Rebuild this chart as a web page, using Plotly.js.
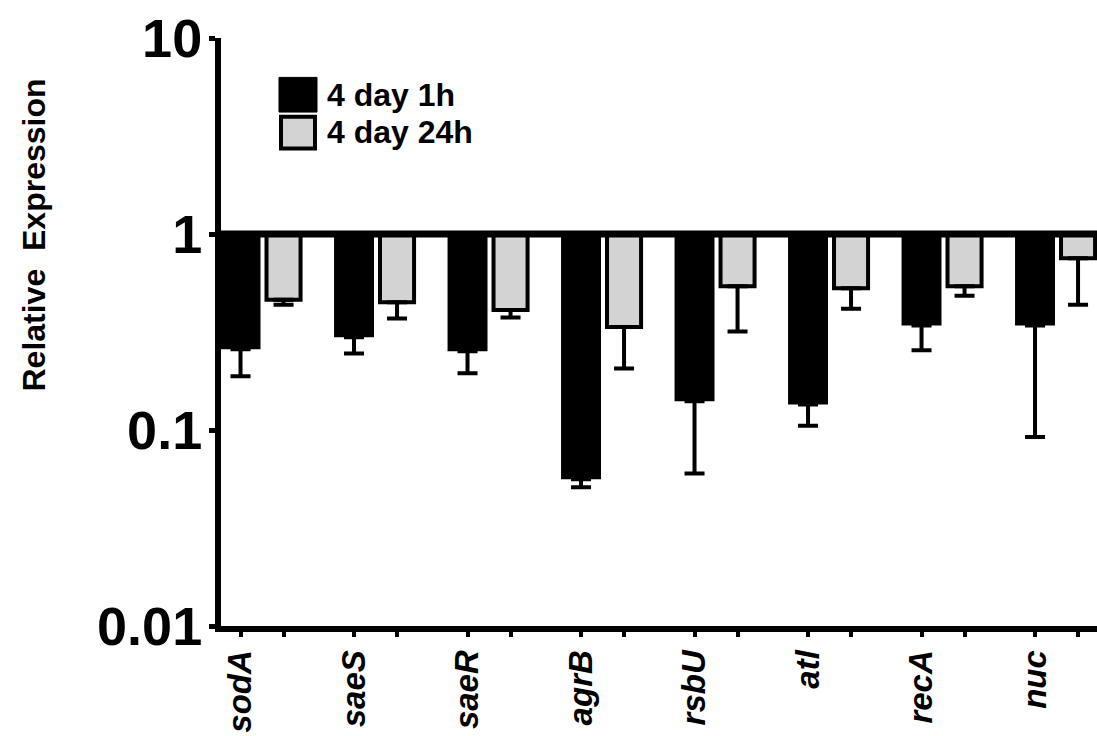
<!DOCTYPE html>
<html>
<head>
<meta charset="utf-8">
<script src="https://cdn.plot.ly/plotly-3.0.1.min.js"></script>
<style>html,body{margin:0;padding:0;background:#fff;}#chart{width:1097px;height:736px;}</style>
</head>
<body>
<div id="chart"></div>
<script>
// ---- data ----
const genes = ["sodA", "saeS", "saeR", "agrB", "rsbU", "atl", "recA", "nuc"];
const seriesNames = ["4 day 1h", "4 day 24h"];
const day4_1h = [0.258, 0.297, 0.252, 0.056, 0.140, 0.135, 0.341, 0.341];
const day4_1h_errMinus = [0.070, 0.051, 0.057, 0.005, 0.080, 0.030, 0.086, 0.249];
const day4_24h = [0.462, 0.449, 0.409, 0.335, 0.542, 0.529, 0.542, 0.751];
const day4_24h_errMinus = [0.026, 0.078, 0.034, 0.129, 0.224, 0.113, 0.058, 0.315];
const yTickVals = [0.01, 0.1, 1, 10];
const yTickText = ["0.01", "0.1", "1", "10"];
const BASE = 1;
const yTitle = "Relative&nbsp;&nbsp;Expression";

// ---- layout helpers ----
const FONT = "Liberation Sans, Arial, sans-serif";
const offset = 0.379;     // second bar offset within a group
const idx = genes.map((g, i) => i);
const x1 = idx;
const x2 = idx.map(i => i + offset);
const yRange = [-2, 1];

const traces = [
  {
    type: "bar", name: seriesNames[0], x: x1,
    y: day4_1h.map(v => v - BASE), base: BASE,
    width: 0.352,
    marker: {color: "#000000", line: {color: "#000000", width: 0}},
    error_y: {type: "data", symmetric: false, array: day4_1h.map(() => 0),
              arrayminus: day4_1h_errMinus, color: "#000000", thickness: 4, width: 10},
    showlegend: false, hoverinfo: "skip"
  },
  {
    type: "bar", name: seriesNames[1], x: x2,
    y: day4_24h.map(v => v - BASE), base: BASE,
    width: 0.30,
    marker: {color: "#d3d3d3", line: {color: "#000000", width: 4}},
    error_y: {type: "data", symmetric: false, array: day4_24h.map(() => 0),
              arrayminus: day4_24h_errMinus, color: "#000000", thickness: 4, width: 10},
    showlegend: false, hoverinfo: "skip"
  }
];

const tickVals = [];
const tickText = [];
genes.forEach((g, i) => {
  tickVals.push(x1[i]); tickText.push(g);
  tickVals.push(x2[i]); tickText.push("");
});

const basePaper = (Math.log10(BASE) - yRange[0]) / (yRange[1] - yRange[0]);

const layout = {
  width: 1097, height: 736,
  margin: {l: 221, r: 0, t: 38, b: 110, pad: 0},
  paper_bgcolor: "#ffffff", plot_bgcolor: "#ffffff",
  font: {family: FONT, color: "#000000"},
  barmode: "overlay",
  showlegend: false,
  xaxis: {
    range: [-0.172, 7.546],
    tickmode: "array", tickvals: tickVals, ticktext: tickText,
    tickangle: -90,
    tickfont: {family: FONT, size: 33, weight: "bold", style: "italic", color: "#000"},
    ticks: "outside", ticklen: 5, tickwidth: 4, tickcolor: "#000",
    showline: true, linewidth: 6, linecolor: "#000",
    showgrid: false, zeroline: false, fixedrange: true
  },
  yaxis: {
    type: "log", range: yRange,
    tickmode: "array", tickvals: yTickVals, ticktext: yTickText,
    tickfont: {family: FONT, size: 54, weight: "bold", color: "#000"},
    ticklabelstandoff: -4,
    ticks: "outside", ticklen: 6, tickwidth: 5, tickcolor: "#000",
    showline: true, linewidth: 6, linecolor: "#000",
    showgrid: false, zeroline: false, fixedrange: true
  },
  shapes: [
    {type: "line", xref: "paper", yref: "paper", x0: -0.006, x1: 1, y0: basePaper, y1: basePaper,
     line: {color: "#000", width: 7}, layer: "above"},
    // legend swatches
    {type: "rect", xref: "paper", yref: "paper", x0: 0.0662, x1: 0.1096, y0: 0.874, y1: 0.933,
     fillcolor: "#000", line: {color: "#000", width: 1}},
    {type: "rect", xref: "paper", yref: "paper", x0: 0.0685, x1: 0.1073, y0: 0.812, y1: 0.866,
     fillcolor: "#d3d3d3", line: {color: "#000", width: 4}}
  ],
  annotations: [
    {text: yTitle, xref: "paper", yref: "paper", x: -0.214, y: 0.665, textangle: -90,
     showarrow: false, font: {family: FONT, size: 32, weight: "bold", color: "#000"},
     xanchor: "center", yanchor: "middle"},
    {text: "<b>" + seriesNames[0] + "</b>", xref: "paper", yref: "paper", x: 0.119, y: 0.903,
     showarrow: false, xanchor: "left", yanchor: "middle", font: {family: FONT, size: 32, color: "#000"}},
    {text: "<b>" + seriesNames[1] + "</b>", xref: "paper", yref: "paper", x: 0.119, y: 0.840,
     showarrow: false, xanchor: "left", yanchor: "middle", font: {family: FONT, size: 32, color: "#000"}}
  ]
};

Plotly.newPlot("chart", traces, layout, {displayModeBar: false, staticPlot: true});
</script>
</body>
</html>
